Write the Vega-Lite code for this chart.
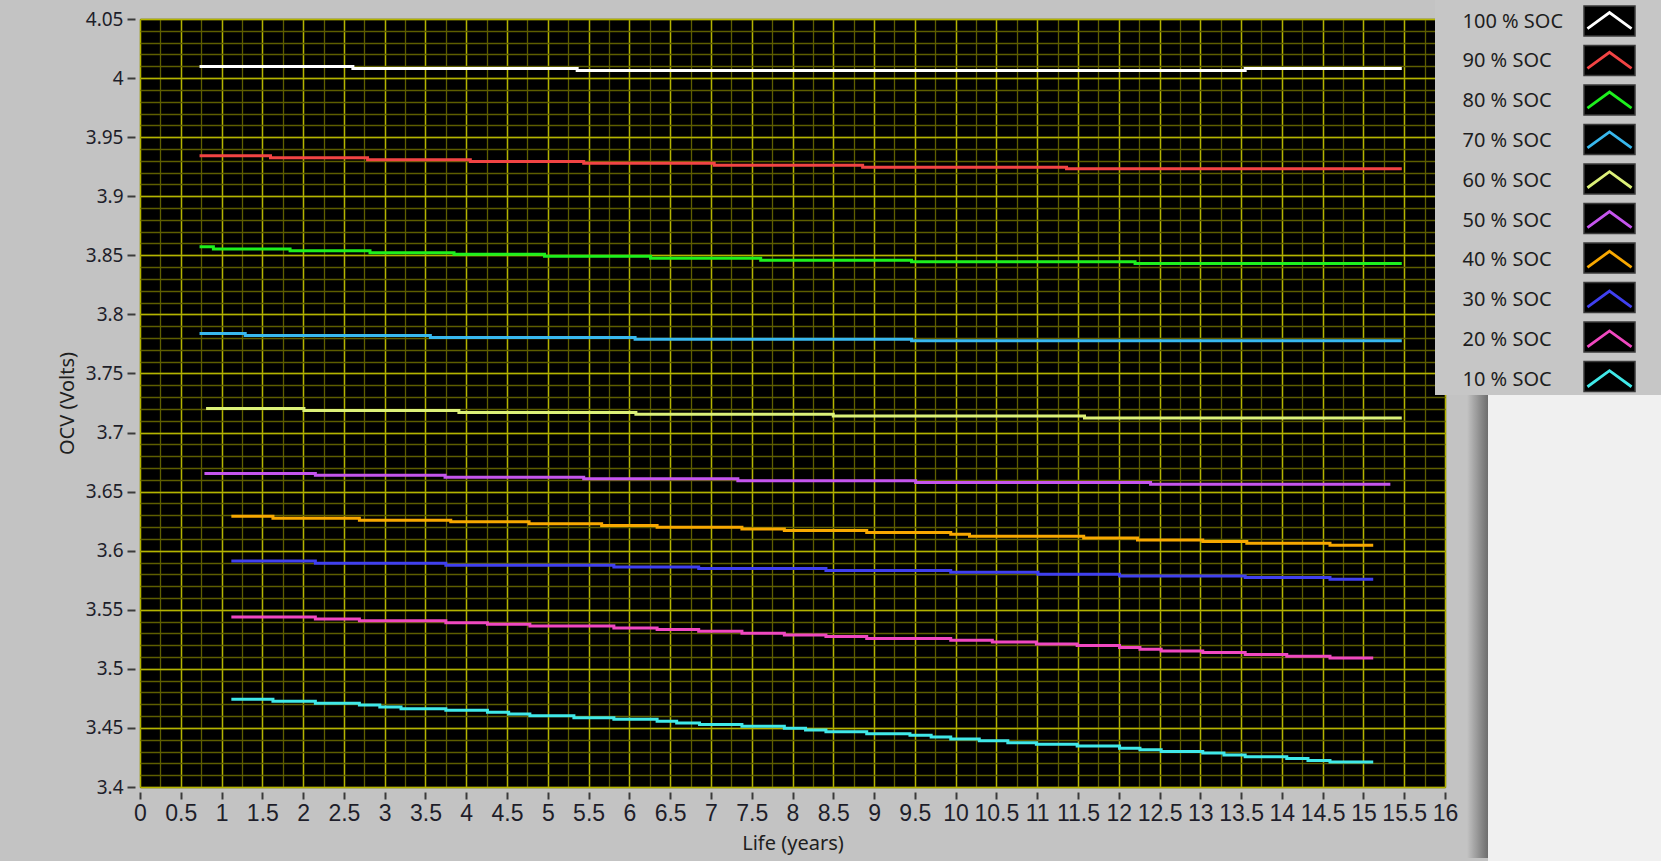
{
  "$schema": "https://vega.github.io/schema/vega-lite/v6.json",
  "width": 1305,
  "height": 768,
  "autosize": {"type": "none"},
  "padding": {"left": 140, "top": 19, "right": 216, "bottom": 74},
  "background": "#c3c3c3",
  "view": {"fill": "#000000", "stroke": "#8c8c8c", "strokeWidth": 1},
  "data": {"values": [
    {"s":"100 % SOC","t":0.73,"v":4.0098},{"s":"100 % SOC","t":2.61,"v":4.0082},{"s":"100 % SOC","t":5.36,"v":4.0065},{"s":"100 % SOC","t":13.55,"v":4.0082},{"s":"100 % SOC","t":15.47,"v":4.0082},
    {"s":"90 % SOC","t":0.73,"v":3.9342},{"s":"90 % SOC","t":1.60,"v":3.9325},{"s":"90 % SOC","t":2.79,"v":3.9308},{"s":"90 % SOC","t":4.05,"v":3.9294},{"s":"90 % SOC","t":5.44,"v":3.9280},{"s":"90 % SOC","t":7.04,"v":3.9263},{"s":"90 % SOC","t":8.86,"v":3.9246},{"s":"90 % SOC","t":11.36,"v":3.9232},{"s":"90 % SOC","t":15.47,"v":3.9232},
    {"s":"80 % SOC","t":0.73,"v":3.8572},{"s":"80 % SOC","t":0.90,"v":3.8553},{"s":"80 % SOC","t":1.84,"v":3.8539},{"s":"80 % SOC","t":2.82,"v":3.8522},{"s":"80 % SOC","t":3.85,"v":3.8508},{"s":"80 % SOC","t":4.96,"v":3.8493},{"s":"80 % SOC","t":6.26,"v":3.8476},{"s":"80 % SOC","t":7.61,"v":3.8459},{"s":"80 % SOC","t":9.46,"v":3.8445},{"s":"80 % SOC","t":12.20,"v":3.8431},{"s":"80 % SOC","t":15.47,"v":3.8431},
    {"s":"70 % SOC","t":0.73,"v":3.7839},{"s":"70 % SOC","t":1.29,"v":3.7822},{"s":"70 % SOC","t":3.56,"v":3.7805},{"s":"70 % SOC","t":6.07,"v":3.7790},{"s":"70 % SOC","t":9.46,"v":3.7776},{"s":"70 % SOC","t":15.47,"v":3.7776},
    {"s":"60 % SOC","t":0.81,"v":3.7204},{"s":"60 % SOC","t":2.01,"v":3.7187},{"s":"60 % SOC","t":3.91,"v":3.7170},{"s":"60 % SOC","t":6.08,"v":3.7155},{"s":"60 % SOC","t":8.50,"v":3.7141},{"s":"60 % SOC","t":11.58,"v":3.7124},{"s":"60 % SOC","t":15.47,"v":3.7124},
    {"s":"50 % SOC","t":0.79,"v":3.6653},{"s":"50 % SOC","t":2.15,"v":3.6639},{"s":"50 % SOC","t":3.74,"v":3.6622},{"s":"50 % SOC","t":5.44,"v":3.6608},{"s":"50 % SOC","t":7.33,"v":3.6591},{"s":"50 % SOC","t":9.51,"v":3.6577},{"s":"50 % SOC","t":12.39,"v":3.6563},{"s":"50 % SOC","t":15.33,"v":3.6563},
    {"s":"40 % SOC","t":1.12,"v":3.6292},{"s":"40 % SOC","t":1.63,"v":3.6275},{"s":"40 % SOC","t":2.69,"v":3.6258},{"s":"40 % SOC","t":3.81,"v":3.6244},{"s":"40 % SOC","t":4.77,"v":3.6227},{"s":"40 % SOC","t":5.66,"v":3.6213},{"s":"40 % SOC","t":6.34,"v":3.6199},{"s":"40 % SOC","t":7.38,"v":3.6184},{"s":"40 % SOC","t":7.90,"v":3.6170},{"s":"40 % SOC","t":8.91,"v":3.6154},{"s":"40 % SOC","t":9.94,"v":3.6139},{"s":"40 % SOC","t":10.17,"v":3.6122},{"s":"40 % SOC","t":11.57,"v":3.6108},{"s":"40 % SOC","t":12.23,"v":3.6091},{"s":"40 % SOC","t":13.03,"v":3.6077},{"s":"40 % SOC","t":13.57,"v":3.6063},{"s":"40 % SOC","t":14.59,"v":3.6046},{"s":"40 % SOC","t":15.12,"v":3.6046},
    {"s":"30 % SOC","t":1.12,"v":3.5913},{"s":"30 % SOC","t":2.15,"v":3.5894},{"s":"30 % SOC","t":3.75,"v":3.5877},{"s":"30 % SOC","t":5.81,"v":3.5862},{"s":"30 % SOC","t":6.85,"v":3.5849},{"s":"30 % SOC","t":8.41,"v":3.5832},{"s":"30 % SOC","t":9.94,"v":3.5818},{"s":"30 % SOC","t":11.01,"v":3.5801},{"s":"30 % SOC","t":12.01,"v":3.5786},{"s":"30 % SOC","t":13.55,"v":3.5773},{"s":"30 % SOC","t":14.59,"v":3.5758},{"s":"30 % SOC","t":15.12,"v":3.5758},
    {"s":"20 % SOC","t":1.12,"v":3.5439},{"s":"20 % SOC","t":2.15,"v":3.5422},{"s":"20 % SOC","t":2.69,"v":3.5408},{"s":"20 % SOC","t":3.75,"v":3.5391},{"s":"20 % SOC","t":4.26,"v":3.5377},{"s":"20 % SOC","t":4.78,"v":3.5363},{"s":"20 % SOC","t":5.81,"v":3.5346},{"s":"20 % SOC","t":6.34,"v":3.5332},{"s":"20 % SOC","t":6.85,"v":3.5318},{"s":"20 % SOC","t":7.38,"v":3.5301},{"s":"20 % SOC","t":7.90,"v":3.5287},{"s":"20 % SOC","t":8.41,"v":3.5273},{"s":"20 % SOC","t":8.91,"v":3.5256},{"s":"20 % SOC","t":9.94,"v":3.5242},{"s":"20 % SOC","t":10.45,"v":3.5228},{"s":"20 % SOC","t":10.99,"v":3.5211},{"s":"20 % SOC","t":11.49,"v":3.5197},{"s":"20 % SOC","t":12.01,"v":3.5180},{"s":"20 % SOC","t":12.26,"v":3.5166},{"s":"20 % SOC","t":12.52,"v":3.5152},{"s":"20 % SOC","t":13.03,"v":3.5138},{"s":"20 % SOC","t":13.55,"v":3.5121},{"s":"20 % SOC","t":14.06,"v":3.5106},{"s":"20 % SOC","t":14.59,"v":3.5092},{"s":"20 % SOC","t":15.12,"v":3.5092},
    {"s":"10 % SOC","t":1.12,"v":3.4742},{"s":"10 % SOC","t":1.63,"v":3.4725},{"s":"10 % SOC","t":2.15,"v":3.4708},{"s":"10 % SOC","t":2.69,"v":3.4694},{"s":"10 % SOC","t":2.94,"v":3.4677},{"s":"10 % SOC","t":3.20,"v":3.4663},{"s":"10 % SOC","t":3.75,"v":3.4649},{"s":"10 % SOC","t":4.26,"v":3.4632},{"s":"10 % SOC","t":4.52,"v":3.4618},{"s":"10 % SOC","t":4.78,"v":3.4604},{"s":"10 % SOC","t":5.32,"v":3.4587},{"s":"10 % SOC","t":5.81,"v":3.4573},{"s":"10 % SOC","t":6.34,"v":3.4556},{"s":"10 % SOC","t":6.58,"v":3.4542},{"s":"10 % SOC","t":6.86,"v":3.4528},{"s":"10 % SOC","t":7.38,"v":3.4514},{"s":"10 % SOC","t":7.90,"v":3.4497},{"s":"10 % SOC","t":8.16,"v":3.4482},{"s":"10 % SOC","t":8.41,"v":3.4468},{"s":"10 % SOC","t":8.91,"v":3.4451},{"s":"10 % SOC","t":9.44,"v":3.4437},{"s":"10 % SOC","t":9.70,"v":3.4423},{"s":"10 % SOC","t":9.94,"v":3.4406},{"s":"10 % SOC","t":10.29,"v":3.4392},{"s":"10 % SOC","t":10.64,"v":3.4375},{"s":"10 % SOC","t":10.99,"v":3.4361},{"s":"10 % SOC","t":11.49,"v":3.4346},{"s":"10 % SOC","t":12.01,"v":3.4329},{"s":"10 % SOC","t":12.26,"v":3.4315},{"s":"10 % SOC","t":12.52,"v":3.4301},{"s":"10 % SOC","t":13.03,"v":3.4287},{"s":"10 % SOC","t":13.29,"v":3.4270},{"s":"10 % SOC","t":13.55,"v":3.4256},{"s":"10 % SOC","t":14.06,"v":3.4242},{"s":"10 % SOC","t":14.32,"v":3.4225},{"s":"10 % SOC","t":14.59,"v":3.4211},{"s":"10 % SOC","t":15.12,"v":3.4211}
  ]},
  "resolve": {"scale": {"color": "independent"}, "axis": {"x": "independent", "y": "independent"}},
  "layer": [
    {
      "mark": {"type": "text", "text": ""},
      "encoding": {
        "x": {"field": "t", "type": "quantitative", "scale": {"domain": [0, 16], "nice": false, "zero": false},
          "axis": {"orient": "bottom", "values": [0,0.25,0.5,0.75,1,1.25,1.5,1.75,2,2.25,2.5,2.75,3,3.25,3.5,3.75,4,4.25,4.5,4.75,5,5.25,5.5,5.75,6,6.25,6.5,6.75,7,7.25,7.5,7.75,8,8.25,8.5,8.75,9,9.25,9.5,9.75,10,10.25,10.5,10.75,11,11.25,11.5,11.75,12,12.25,12.5,12.75,13,13.25,13.5,13.75,14,14.25,14.5,14.75,15,15.25,15.5,15.75,16],
            "grid": true, "gridColor": "#5e5e00", "gridWidth": 1.3, "domain": false, "ticks": false, "labels": false, "title": null}},
        "y": {"field": "v", "type": "quantitative", "scale": {"domain": [3.4, 4.05], "nice": false, "zero": false},
          "axis": {"orient": "left", "values": [3.4,3.41,3.42,3.43,3.44,3.45,3.46,3.47,3.48,3.49,3.5,3.51,3.52,3.53,3.54,3.55,3.56,3.57,3.58,3.59,3.6,3.61,3.62,3.63,3.64,3.65,3.66,3.67,3.68,3.69,3.7,3.71,3.72,3.73,3.74,3.75,3.76,3.77,3.78,3.79,3.8,3.81,3.82,3.83,3.84,3.85,3.86,3.87,3.88,3.89,3.9,3.91,3.92,3.93,3.94,3.95,3.96,3.97,3.98,3.99,4,4.01,4.02,4.03,4.04,4.05],
            "grid": true, "gridColor": "#5e5e00", "gridWidth": 1.3, "domain": false, "ticks": false, "labels": false, "title": null}},
        "color": {"field": "s", "type": "nominal",
          "scale": {"domain": ["100 % SOC","90 % SOC","80 % SOC","70 % SOC","60 % SOC","50 % SOC","40 % SOC","30 % SOC","20 % SOC","10 % SOC"], "range": ["#000000"]},
          "legend": {"orient": "none", "legendX": 1323, "legendY": -14, "direction": "vertical", "title": null, "padding": 0,
            "symbolSize": 900, "symbolType": "M-1.7,-1H1.7V1H-1.7Z", "symbolStrokeColor": "#3a3a3a", "symbolStrokeWidth": 1.5,
            "labelFont": "Noto Sans", "labelFontSize": 20, "labelColor": "transparent", "labelOffset": -162.5, "symbolOffset": 130.5, "rowPadding": 3.5, "zindex": 2}}
      }
    },
    {
      "mark": {"type": "text", "text": ""},
      "encoding": {
        "x": {"field": "t", "type": "quantitative",
          "axis": {"orient": "bottom", "values": [0,0.5,1,1.5,2,2.5,3,3.5,4,4.5,5,5.5,6,6.5,7,7.5,8,8.5,9,9.5,10,10.5,11,11.5,12,12.5,13,13.5,14,14.5,15,15.5,16],
            "format": "~g", "grid": true, "gridColor": "#b4b400", "gridWidth": 1.4, "domain": false,
            "ticks": true, "tickColor": "#3a3a3a", "tickWidth": 2, "tickSize": 7, "offset": 5,
            "labelFont": "Liberation Sans Narrow, Liberation Sans, sans-serif", "labelFontSize": 23, "labelColor": "#1e1e2a", "labelPadding": 3, "labelFlush": false, "labelOverlap": false,
            "title": "Life (years)", "titleFont": "Noto Sans", "titleFontSize": 20, "titleFontWeight": "normal", "titleColor": "#1e1e1e", "titlePadding": 8}},
        "y": {"field": "v", "type": "quantitative",
          "axis": {"orient": "left", "values": [3.4,3.45,3.5,3.55,3.6,3.65,3.7,3.75,3.8,3.85,3.9,3.95,4,4.05],
            "format": "~g", "grid": true, "gridColor": "#b4b400", "gridWidth": 1.4, "domain": false,
            "ticks": true, "tickColor": "#3a3a3a", "tickWidth": 2, "tickSize": 8, "offset": 5,
            "labelFont": "Noto Sans", "labelFontSize": 19, "labelColor": "#1e1e2a", "labelPadding": 4, "labelFlush": false, "labelOverlap": false,
            "title": "OCV (Volts)", "titleFont": "Noto Sans", "titleFontSize": 20, "titleFontWeight": "normal", "titleColor": "#1e1e1e", "titlePadding": 8}}
      }
    },
    {
      "mark": {"type": "line", "interpolate": "step-after", "strokeWidth": 3},
      "encoding": {
        "x": {"field": "t", "type": "quantitative", "axis": null},
        "y": {"field": "v", "type": "quantitative", "axis": null},
        "color": {"field": "s", "type": "nominal",
          "scale": {"domain": ["100 % SOC","90 % SOC","80 % SOC","70 % SOC","60 % SOC","50 % SOC","40 % SOC","30 % SOC","20 % SOC","10 % SOC"],
            "range": ["#ffffff","#f24444","#1ef01e","#38b8ee","#dcf078","#c555ee","#f8a800","#4040f0","#f048c0","#40e8e8"]},
          "legend": {"orient": "none", "legendX": 1323, "legendY": -14, "direction": "vertical", "title": null, "padding": 0,
            "symbolSize": 900, "symbolType": "M-1.7,-0.957M1.7,0.957M-1.47,0.47L0,-0.6L1.47,0.47", "symbolFillColor": "transparent", "symbolStrokeWidth": 2.8,
            "labelFont": "Noto Sans", "labelFontSize": 20, "labelColor": "#1e1e1e", "labelOffset": -163.5, "symbolOffset": 130, "rowPadding": -1.2, "zindex": 3}}
      }
    },
    {
      "mark": {"type": "text", "text": ""},
      "encoding": {
        "color": {"field": "v", "type": "quantitative", "scale": {"range": ["#c6c6c6", "#c6c6c6"]},
          "legend": {"orient": "none", "legendX": 1295, "legendY": -19, "type": "gradient", "direction": "vertical", "title": null, "padding": 0,
            "gradientLength": 395, "gradientThickness": 226, "gradientStrokeWidth": 0, "labelExpr": "''", "labelColor": "transparent", "zindex": 1}}
      }
    },
    {
      "mark": {"type": "text", "text": ""},
      "encoding": {
        "color": {"field": "v", "type": "quantitative", "scale": {"range": ["#f0f0f0", "#f0f0f0"]},
          "legend": {"orient": "none", "legendX": 1348, "legendY": 376, "type": "gradient", "direction": "vertical", "title": null, "padding": 0,
            "gradientLength": 466, "gradientThickness": 173, "gradientStrokeWidth": 0, "labelExpr": "''", "labelColor": "transparent", "zindex": 1}}
      }
    },
    {
      "mark": {"type": "text", "text": ""},
      "encoding": {
        "color": {"field": "v", "type": "quantitative", "scale": {"range": ["#c3c3c3", "#6e6e6e"]},
          "legend": {"orient": "none", "legendX": 1327, "legendY": 376, "type": "gradient", "direction": "horizontal", "title": null, "padding": 0,
            "gradientLength": 21, "gradientThickness": 463, "gradientStrokeWidth": 0, "labelExpr": "''", "labelColor": "transparent", "zindex": 1}}
      }
    }
  ]
}
